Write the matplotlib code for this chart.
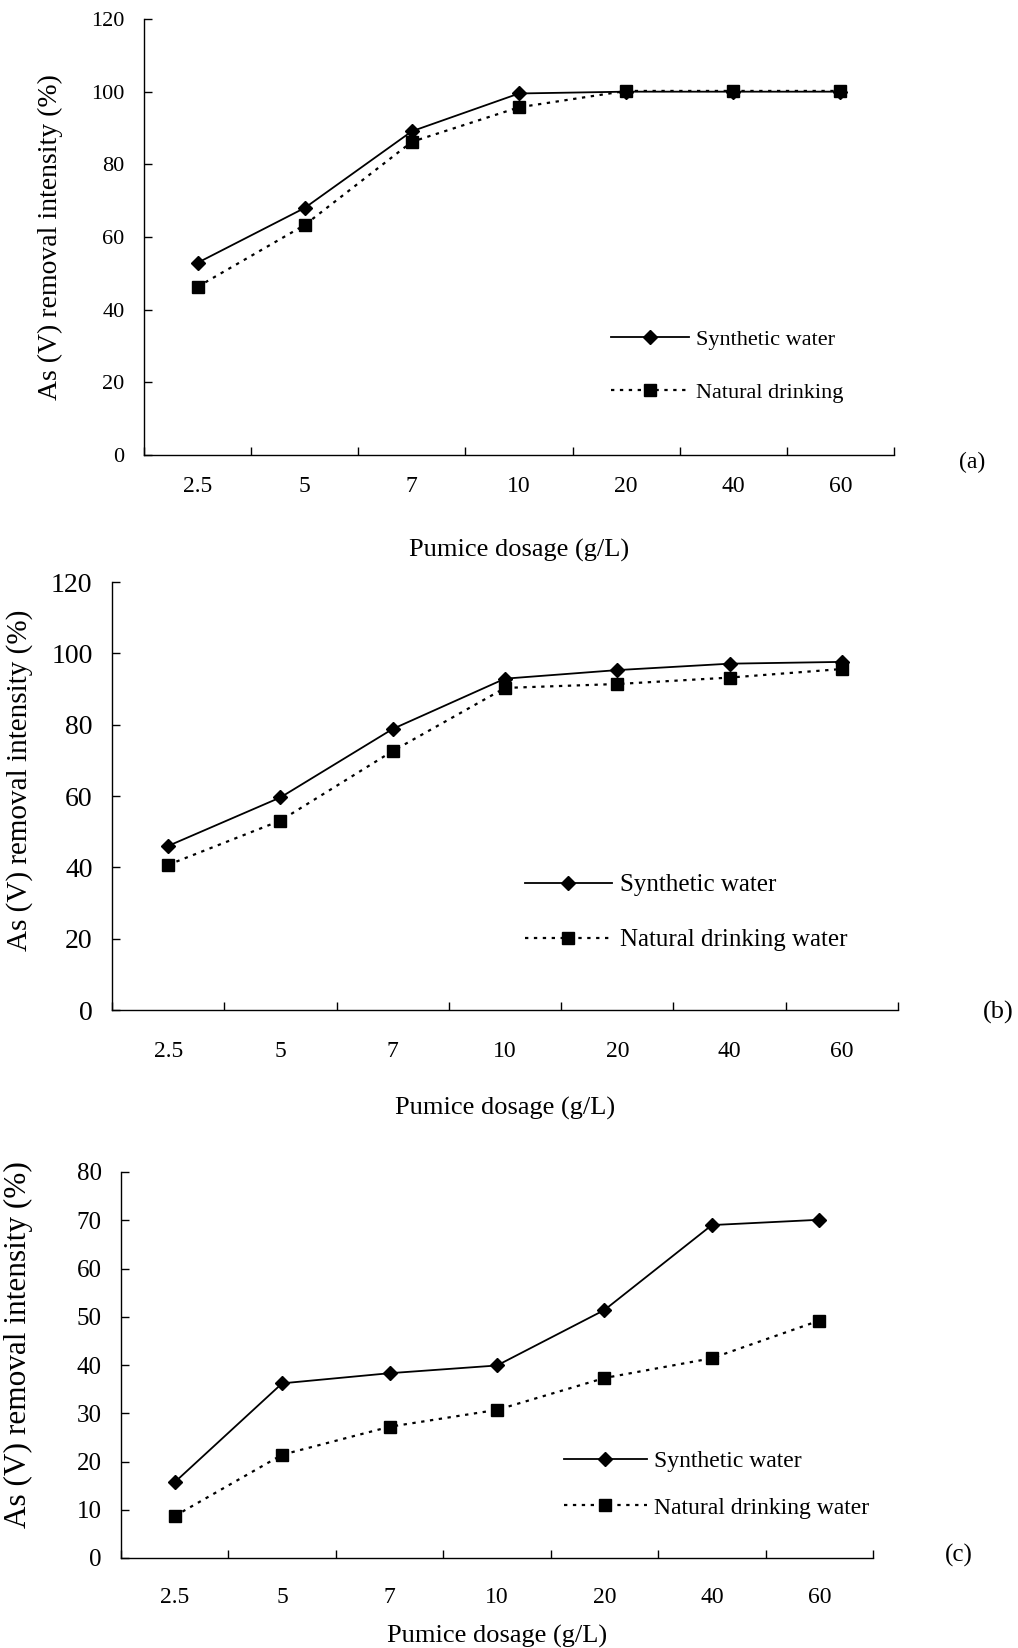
import matplotlib
matplotlib.use('Agg')
import matplotlib.pyplot as plt

plt.rcParams['font.family'] = ['Liberation Serif', 'DejaVu Serif']

dosage = ['2.5', '5', '7', '10', '20', '40', '60']

synth_a = [52.9, 68.0, 89.1, 99.5, 100.0, 100.0, 100.0]
natural_a = [46.3, 63.3, 86.2, 95.7, 100.2, 100.2, 100.2]

synth_b = [46.0, 59.6, 78.8, 92.9, 95.3, 97.1, 97.6]
natural_b = [40.7, 53.1, 72.6, 90.3, 91.4, 93.2, 95.6]

synth_c = [15.7, 36.2, 38.3, 39.9, 51.4, 69.0, 70.1]
natural_c = [8.7, 21.4, 27.2, 30.7, 37.3, 41.4, 49.2]

W, H = 1018, 1648
fig = plt.figure(figsize=(W / 100, H / 100), dpi=100)


def px_axes(left, right, top, bottom):
    return fig.add_axes([left / W, 1 - bottom / H, (right - left) / W, (bottom - top) / H])


def panel(ax, synth, natural, ymax, ystep, labels, ytick_fs, xtick_fs, xpad,
          ylab_fs, ylab_pos, xlab_y, leg_fs, leg_anchor, leg_spacing, nat_label):
    x = list(range(len(labels)))
    ax.plot(x, synth, color='black', lw=1.3, marker='D', ms=7, label='Synthetic water', zorder=3)
    ax.plot(x, natural, color='black', lw=1.6, ls=(0, (1.5, 2.5)), marker='s', ms=9,
            label=nat_label, zorder=3)

    ax.set_xlim(-0.5, len(labels) - 0.5)
    ax.set_ylim(0, ymax)
    ax.set_yticks(range(0, ymax + 1, ystep))
    ax.tick_params(axis='y', direction='in', length=6, width=1, pad=14, labelsize=ytick_fs)

    # ticks at category boundaries, labels at centres
    ax.set_xticks([i - 0.5 for i in range(len(labels) + 1)])
    ax.set_xticklabels([])
    ax.tick_params(axis='x', which='major', direction='in', length=6, width=1)
    ax.set_xticks(x, minor=True)
    ax.set_xticklabels(labels, minor=True)
    ax.tick_params(axis='x', which='minor', length=0, pad=xpad, labelsize=xtick_fs)

    for s in ['top', 'right']:
        ax.spines[s].set_visible(False)
    for s in ['left', 'bottom']:
        ax.spines[s].set_linewidth(1.0)

    ax.set_ylabel('As (V) removal intensity (%)', fontsize=ylab_fs)
    ax.yaxis.set_label_coords(*ylab_pos)
    ax.yaxis.label.set_va('center')
    ax.set_xlabel('Pumice dosage (g/L)', fontsize=19)
    ax.xaxis.set_label_coords(0.5, xlab_y)
    ax.xaxis.label.set_va('center')

    ax.legend(loc='upper left', bbox_to_anchor=leg_anchor, frameon=False, fontsize=leg_fs,
              handlelength=3.5, handletextpad=0.3, labelspacing=leg_spacing,
              borderpad=0, borderaxespad=0)


ax_a = px_axes(144, 894, 19, 455)
panel(ax_a, synth_a, natural_a, 120, 20, dosage, 16, 17, 15,
      20, (-0.125, 0.5), -0.218, 16, (0.623, 0.288), 1.45, 'Natural drinking')

ax_b = px_axes(112, 898, 582, 1010)
panel(ax_b, synth_b, natural_b, 120, 20, dosage, 20, 17, 22,
      21, (-0.118, 0.537), -0.23, 18, (0.525, 0.318), 1.3, 'Natural drinking water')

ax_c = px_axes(121, 873, 1172, 1558)
panel(ax_c, synth_c, natural_c, 80, 10, dosage, 18, 17, 21,
      22.5, (-0.136, 0.552), -0.203, 17, (0.589, 0.279), 1.07, 'Natural drinking water')

fig.text(972 / W, 1 - 462 / H, '(a)', fontsize=17, ha='center', va='center')
fig.text(998 / W, 1 - 1012 / H, '(b)', fontsize=19, ha='center', va='center')
fig.text(959 / W, 1 - 1555 / H, '(c)', fontsize=18, ha='center', va='center')

fig.savefig('out.png', dpi=100)
